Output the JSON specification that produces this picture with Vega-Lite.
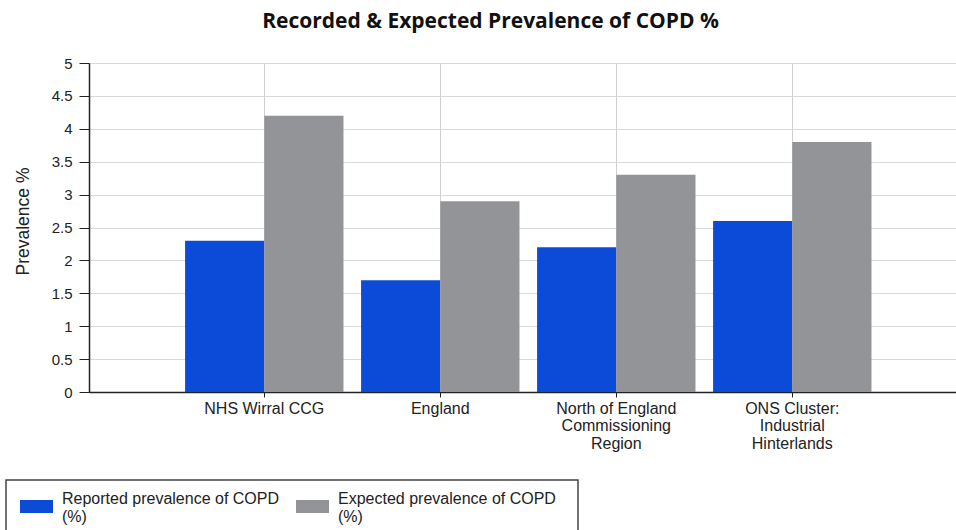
{
  "$schema": "https://vega.github.io/schema/vega-lite/v6.json",
  "width": 867,
  "height": 329,
  "autosize": {"type": "none"},
  "padding": {"left": 89, "top": 63, "right": 0, "bottom": 138},
  "background": "white",
  "title": {
    "text": "Recorded & Expected Prevalence of COPD %",
    "font": "Open Sans",
    "fontSize": 21,
    "fontWeight": "bold",
    "color": "#111111",
    "anchor": "middle",
    "frame": "group",
    "dx": -32,
    "offset": 24
  },
  "data": {
    "values": [
      {"area": "NHS Wirral CCG", "measure": "Reported prevalence of COPD (%)", "value": 2.3},
      {"area": "NHS Wirral CCG", "measure": "Expected prevalence of COPD (%)", "value": 4.2},
      {"area": "England", "measure": "Reported prevalence of COPD (%)", "value": 1.7},
      {"area": "England", "measure": "Expected prevalence of COPD (%)", "value": 2.9},
      {"area": "North of England Commissioning Region", "measure": "Reported prevalence of COPD (%)", "value": 2.2},
      {"area": "North of England Commissioning Region", "measure": "Expected prevalence of COPD (%)", "value": 3.3},
      {"area": "ONS Cluster: Industrial Hinterlands", "measure": "Reported prevalence of COPD (%)", "value": 2.6},
      {"area": "ONS Cluster: Industrial Hinterlands", "measure": "Expected prevalence of COPD (%)", "value": 3.8}
    ]
  },
  "mark": {"type": "bar"},
  "encoding": {
    "x": {
      "field": "area",
      "type": "nominal",
      "sort": ["NHS Wirral CCG", "England", "North of England Commissioning Region", "ONS Cluster: Industrial Hinterlands"],
      "scale": {"paddingInner": 0.1, "paddingOuter": 0.513, "align": 0.532},
      "axis": {
        "title": null,
        "domain": true,
        "domainColor": "#222222",
        "domainWidth": 1.5,
        "ticks": true,
        "tickSize": 5,
        "tickColor": "#222222",
        "grid": true,
        "gridColor": "#cfcfcf",
        "bandPosition": 0.5,
        "labelAngle": 0,
        "labelFont": "Liberation Sans",
        "labelFontSize": 16,
        "labelColor": "#222222",
        "labelPadding": 3,
        "labelLimit": 300,
        "labelLineHeight": 17.5,
        "labelBaseline": "top",
        "labelExpr": "datum.label == 'North of England Commissioning Region' ? ['North of England', 'Commissioning', 'Region'] : datum.label == 'ONS Cluster: Industrial Hinterlands' ? ['ONS Cluster:', 'Industrial', 'Hinterlands'] : datum.label"
      }
    },
    "xOffset": {
      "field": "measure",
      "type": "nominal",
      "sort": ["Reported prevalence of COPD (%)", "Expected prevalence of COPD (%)"],
      "scale": {"paddingInner": 0, "paddingOuter": 0}
    },
    "y": {
      "field": "value",
      "type": "quantitative",
      "scale": {"domain": [0, 5], "nice": false},
      "axis": {
        "title": "Prevalence %",
        "titleFont": "Liberation Sans",
        "titleFontSize": 17.5,
        "titleFontWeight": "normal",
        "titleColor": "#222222",
        "titlePadding": 19,
        "titleY": 158,
        "values": [0, 0.5, 1, 1.5, 2, 2.5, 3, 3.5, 4, 4.5, 5],
        "format": "~g",
        "domainColor": "#222222",
        "domainWidth": 1.5,
        "tickColor": "#222222",
        "tickSize": 10,
        "labelPadding": 7,
        "labelFont": "Liberation Sans",
        "labelFontSize": 15,
        "labelColor": "#222222",
        "gridColor": "#d9d9d9"
      }
    },
    "color": {
      "field": "measure",
      "type": "nominal",
      "sort": ["Reported prevalence of COPD (%)", "Expected prevalence of COPD (%)"],
      "scale": {
        "domain": ["Reported prevalence of COPD (%)", "Expected prevalence of COPD (%)"],
        "range": ["#0B4BD8", "#929497"]
      },
      "legend": {
        "orient": "none",
        "legendX": -83,
        "legendY": 417,
        "direction": "horizontal",
        "columns": 2,
        "title": null,
        "symbolType": "M-1.5,0.09H1.5V1.27H-1.5Z",
        "symbolSize": 484,
        "symbolStrokeWidth": 0,
        "symbolOpacity": 1,
        "symbolOffset": 11.5,
        "labelFont": "Liberation Sans",
        "labelFontSize": 16,
        "labelColor": "#222222",
        "labelOffset": 14.5,
        "labelLimit": 400,
        "labelLineHeight": 16,
        "columnPadding": 11,
        "padding": 8,
        "labelExpr": "datum.label == 'Reported prevalence of COPD (%)' ? ['Reported prevalence of COPD', '(%)'] : ['Expected prevalence of COPD\u00a0\u00a0\u00a0\u200b', '(%)']"
      }
    }
  },
  "config": {
    "view": {"stroke": null},
    "legend": {"strokeColor": "#444444", "strokeWidth": 1.5}
  }
}
